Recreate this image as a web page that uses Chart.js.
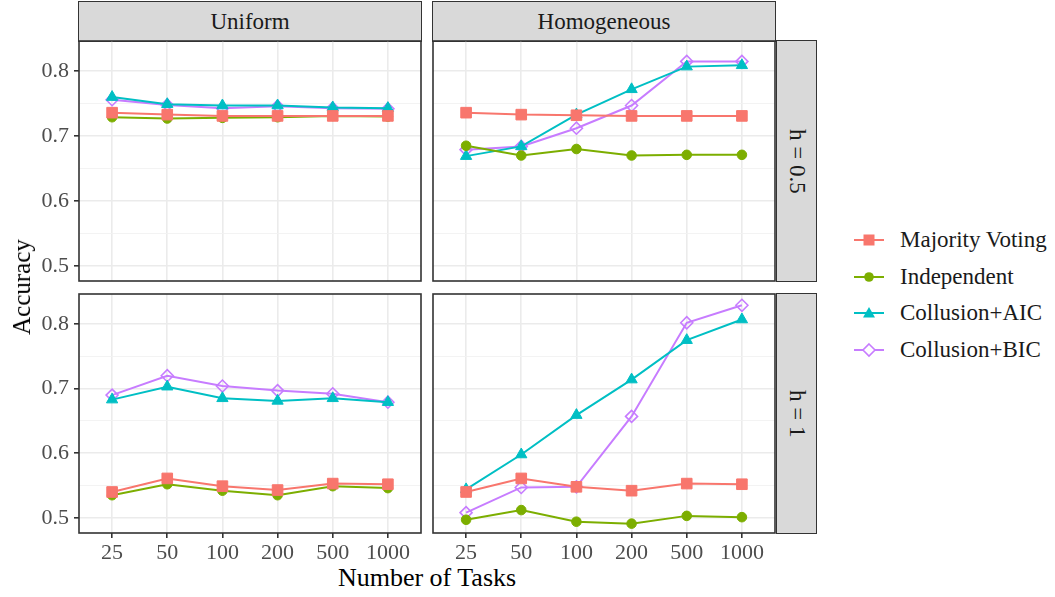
<!DOCTYPE html>
<html>
<head>
<meta charset="utf-8">
<script src="https://cdn.jsdelivr.net/npm/chart.js@4"></script>
<style>
  body { margin: 0; background: #fff; font-family: "Liberation Serif", "Times New Roman", serif; }
  #wrap { position: relative; width: 1055px; height: 597px; overflow: hidden; }
  .panel { position: absolute; }
  .strip { position: absolute; box-sizing: border-box; background: #d9d9d9; border: 1.6px solid #333;
           display: flex; align-items: center; justify-content: center; font-size: 23px; color: #1a1a1a; }
  .strip.side span { writing-mode: vertical-rl; }
  .title { position: absolute; color: #000; white-space: nowrap; }
  .legend-item { position: absolute; left: 852px; height: 30px; display: flex; align-items: center;
                 font-size: 23px; color: #1a1a1a; white-space: nowrap; }
  .legend-item svg { margin-right: 14px; }
</style>
</head>
<body>
<div id="wrap">
  <div class="strip" style="left:78px; top:1px; width:344px; height:41px;">Uniform</div>
  <div class="strip" style="left:432px; top:1px; width:344px; height:41px;">Homogeneous</div>
  <div class="strip side" style="left:776px; top:40px; width:41px; height:242px;"><span>h = 0.5</span></div>
  <div class="strip side" style="left:776px; top:293px; width:41px; height:241px;"><span>h = 1</span></div>

  <div class="panel" style="left:0; top:40px;"><canvas id="uniH05" width="425" height="245"></canvas></div>
  <div class="panel" style="left:432px; top:40px;"><canvas id="homH05" width="345" height="245"></canvas></div>
  <div class="panel" style="left:0; top:293px;"><canvas id="uniH1" width="425" height="270"></canvas></div>
  <div class="panel" style="left:432px; top:293px;"><canvas id="homH1" width="345" height="270"></canvas></div>

  <div class="title" style="left:22px; top:287px; font-size:25px; transform: translate(-50%, -50%) rotate(-90deg);">Accuracy</div>
  <div class="title" style="left:427px; top:578px; font-size:26px; transform: translate(-50%, -50%);">Number of Tasks</div>
  <div id="legend"></div>
</div>

<script>
const tasks = ["25", "50", "100", "200", "500", "1000"];
const methods = ["Majority Voting", "Independent", "Collusion+AIC", "Collusion+BIC"];
const colors = ["#F8766D", "#7CAE00", "#00BFC4", "#C77CFF"];
const yTicks = [0.5, 0.55, 0.6, 0.65, 0.7, 0.75, 0.8];

// Uniform, h = 0.5
const uniH05Majority = [0.736, 0.733, 0.731, 0.731, 0.731, 0.731];
const uniH05Indep = [0.729, 0.727, 0.728, 0.729, 0.731, 0.730];
const uniH05AIC = [0.760, 0.749, 0.747, 0.747, 0.744, 0.743];
const uniH05BIC = [0.756, 0.748, 0.743, 0.746, 0.743, 0.742];

// Homogeneous, h = 0.5
const homH05Majority = [0.736, 0.733, 0.732, 0.731, 0.731, 0.731];
const homH05Indep = [0.685, 0.670, 0.680, 0.670, 0.671, 0.671];
const homH05AIC = [0.669, 0.684, 0.733, 0.772, 0.807, 0.809];
const homH05BIC = [0.679, 0.684, 0.712, 0.747, 0.815, 0.815];

// Uniform, h = 1
const uniH1Majority = [0.540, 0.561, 0.549, 0.543, 0.553, 0.552];
const uniH1Indep = [0.535, 0.552, 0.542, 0.535, 0.549, 0.546];
const uniH1AIC = [0.683, 0.703, 0.685, 0.681, 0.685, 0.679];
const uniH1BIC = [0.690, 0.720, 0.704, 0.697, 0.692, 0.679];

// Homogeneous, h = 1
const homH1Majority = [0.540, 0.561, 0.548, 0.542, 0.553, 0.552];
const homH1Indep = [0.497, 0.512, 0.494, 0.491, 0.503, 0.501];
const homH1AIC = [0.544, 0.598, 0.659, 0.714, 0.775, 0.807];
const homH1BIC = [0.508, 0.547, 0.548, 0.657, 0.802, 0.829];

const pointStyles = ["rect", "circle", "triangle", "rectRot"];
const pointRadii = [7.5, 4.8, 6.5, 6];

Chart.defaults.font.family = "'Liberation Serif', 'Times New Roman', serif";

const isMajor = (v) => Math.round(v * 100) % 10 === 0;

const panelBorder = {
  id: "panelBorder",
  afterDraw(chart) {
    const a = chart.chartArea;
    const c = chart.ctx;
    c.save();
    c.strokeStyle = "#333333";
    c.lineWidth = 1.6;
    c.strokeRect(a.left, a.top, a.right - a.left, a.bottom - a.top);
    c.restore();
  },
};

function makePanel(id, series, showX, showY) {
  const datasets = series.map((vals, i) => ({
    label: methods[i],
    data: vals.map((v, j) => ({ x: j, y: v })),
    borderColor: colors[i],
    backgroundColor: i === 3 ? "rgba(0,0,0,0)" : colors[i],
    pointStyle: pointStyles[i],
    pointRadius: pointRadii[i],
    pointBorderWidth: i === 3 ? 1.6 : 1,
    pointBorderColor: colors[i],
    pointBackgroundColor: i === 3 ? "rgba(0,0,0,0)" : colors[i],
    borderWidth: 2,
    tension: 0,
  }));

  new Chart(document.getElementById(id).getContext("2d"), {
    type: "line",
    data: { datasets: datasets },
    options: {
      responsive: false,
      animation: false,
      devicePixelRatio: 1,
      layout: {
        autoPadding: false,
        padding: {
          left: showY ? 0 : 1,
          top: 1,
          right: showY ? 4 : 2,
          bottom: showX ? 0 : 4,
        },
      },
      plugins: { legend: { display: false }, tooltip: { enabled: false } },
      scales: {
        x: {
          type: "linear",
          min: -0.6,
          max: 5.6,
          afterBuildTicks: (scale) => {
            scale.ticks = tasks.map((t, j) => ({ value: j }));
          },
          afterFit: (scale) => {
            scale.height = showX ? 30 : 0;
            scale.paddingLeft = scale.paddingRight = 0;
          },
          border: { display: false },
          grid: {
            color: "#ebebeb",
            lineWidth: 1.6,
            drawTicks: showX,
            tickLength: 5,
            tickColor: "#333333",
            tickWidth: 1.6,
          },
          ticks: {
            display: showX,
            padding: 2,
            color: "#4d4d4d",
            font: { size: 22 },
            maxRotation: 0,
            callback: (v) => tasks[v],
          },
        },
        y: {
          type: "linear",
          min: 0.4765,
          max: 0.8465,
          afterBuildTicks: (scale) => {
            scale.ticks = yTicks.map((v) => ({ value: v }));
          },
          afterFit: (scale) => {
            scale.width = showY ? 79 : 0;
            scale.paddingTop = scale.paddingBottom = 0;
          },
          border: { display: false },
          grid: {
            color: (ctx) => (isMajor(ctx.tick.value) ? "#ebebeb" : "#f2f2f2"),
            lineWidth: (ctx) => (isMajor(ctx.tick.value) ? 1.6 : 0.9),
            drawTicks: showY,
            tickLength: 5,
            tickColor: (ctx) => (isMajor(ctx.tick.value) ? "#333333" : "rgba(0,0,0,0)"),
            tickWidth: 1.6,
          },
          ticks: {
            display: showY,
            padding: 5,
            color: "#4d4d4d",
            font: { size: 22 },
            callback: (v) => (isMajor(v) ? v.toFixed(1) : ""),
          },
        },
      },
    },
    plugins: [panelBorder],
  });
}

makePanel("uniH05", [uniH05Majority, uniH05Indep, uniH05AIC, uniH05BIC], false, true);
makePanel("homH05", [homH05Majority, homH05Indep, homH05AIC, homH05BIC], false, false);
makePanel("uniH1", [uniH1Majority, uniH1Indep, uniH1AIC, uniH1BIC], true, true);
makePanel("homH1", [homH1Majority, homH1Indep, homH1AIC, homH1BIC], true, false);

// legend keys
const markerSvg = [
  (c) => `<rect x="11.5" y="5.5" width="11" height="11" fill="${c}"/>`,
  (c) => `<circle cx="17" cy="11" r="4.8" fill="${c}"/>`,
  (c) => `<polygon points="17,5 23,15.5 11,15.5" fill="${c}"/>`,
  (c) => `<polygon points="17,5 23,11 17,17 11,11" fill="#fff" stroke="${c}" stroke-width="1.6"/>`,
];
const legendY = [240, 276.7, 313.3, 350];
let html = "";
methods.forEach((m, i) => {
  html += `<div class="legend-item" style="top:${legendY[i] - 15}px">
    <svg width="34" height="22"><line x1="2" y1="11" x2="32" y2="11" stroke="${colors[i]}" stroke-width="2"/>${markerSvg[i](colors[i])}</svg>${m}</div>`;
});
document.getElementById("legend").innerHTML = html;
</script>
</body>
</html>
